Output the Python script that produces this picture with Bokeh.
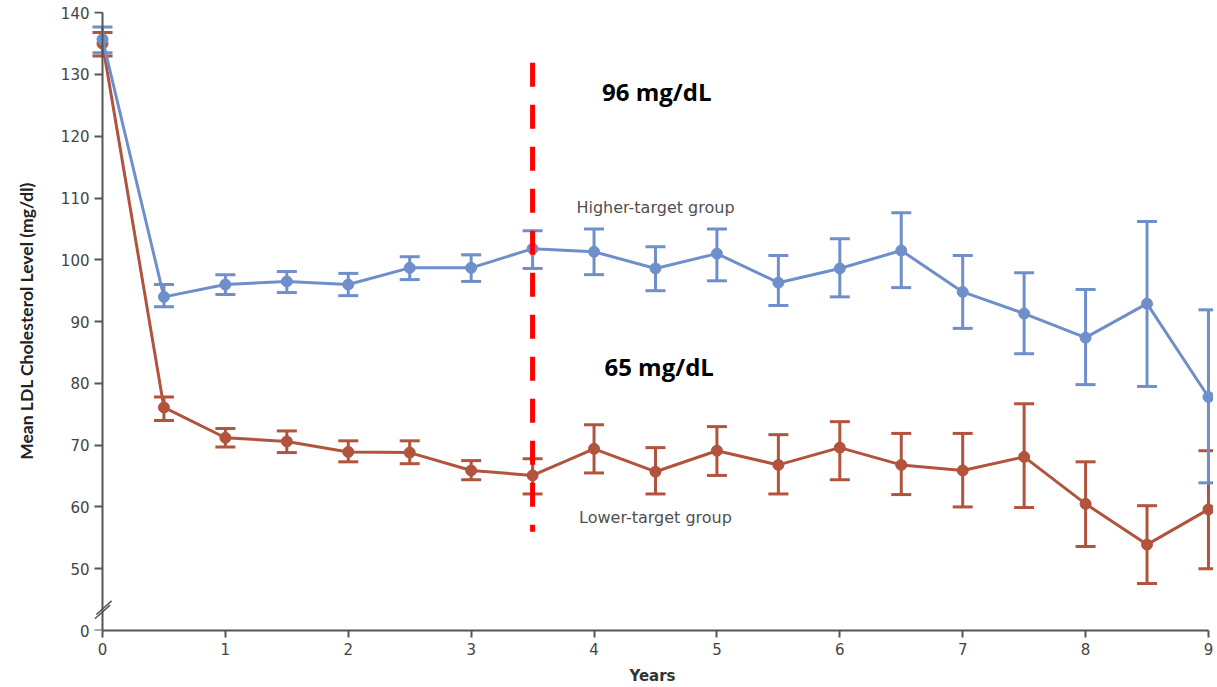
from bokeh.plotting import figure
from bokeh.models import (ColumnDataSource, Whisker, TeeHead, FixedTicker, Range1d, Label,
                          LinearAxis)
from bokeh.embed import file_html
from bokeh.resources import INLINE

# ---------------- data ----------------
years = [0, 0.5, 1, 1.5, 2, 2.5, 3, 3.5, 4, 4.5, 5, 5.5, 6, 6.5, 7, 7.5, 8, 8.5, 9]

higher_mean = [135.7, 94.0, 96.0, 96.5, 96.0, 98.7, 98.7, 101.8, 101.3, 98.6,
               101.0, 96.3, 98.6, 101.5, 94.8, 91.3, 87.4, 92.9, 77.8]
higher_upper = [137.7, 96.0, 97.6, 98.1, 97.8, 100.5, 100.8, 104.7, 105.0, 102.1,
                105.0, 100.7, 103.4, 107.6, 100.7, 97.9, 95.2, 106.2, 91.9]
higher_lower = [133.5, 92.4, 94.4, 94.7, 94.2, 96.8, 96.5, 98.6, 97.6, 95.0,
                96.6, 92.6, 94.0, 95.5, 88.9, 84.8, 79.8, 79.5, 63.9]

lower_mean = [135.0, 76.1, 71.2, 70.6, 68.9, 68.8, 65.9, 65.1, 69.4, 65.7,
              69.1, 66.8, 69.6, 66.8, 65.9, 68.1, 60.5, 53.9, 59.6]
lower_upper = [136.8, 77.8, 72.7, 72.3, 70.7, 70.7, 67.5, 67.8, 73.3, 69.6,
               73.0, 71.7, 73.8, 71.9, 71.9, 76.7, 67.3, 60.2, 69.1]
lower_lower = [133.0, 74.0, 69.7, 68.8, 67.3, 67.0, 64.4, 62.1, 65.5, 62.1,
               65.1, 62.1, 64.4, 62.0, 60.0, 59.9, 53.6, 47.6, 50.0]

x_ticks = [0, 1, 2, 3, 4, 5, 6, 7, 8, 9]
y_ticks = [40, 50, 60, 70, 80, 90, 100, 110, 120, 130, 140]   # 40 is shown as "0" (broken axis)
y_tick_labels = {40: "0"}

cutoff_year = 3.5
cutoff_top, cutoff_bottom = 131.9, 56.0
notes = [("96 mg/dL", 4.51, 127.2), ("65 mg/dL", 4.53, 82.7)]
group_labels = [("Higher-target group", 4.5, 108.4), ("Lower-target group", 4.5, 58.3)]

BLUE = "#6f8fca"
RED = "#b1533d"
AXIS = "#555555"
TXT = "#444444"

# ---------------- figure ----------------
p = figure(width=1213, height=687, output_backend="svg", toolbar_location=None,
           x_range=Range1d(-0.0895, 9.041), y_range=Range1d(40, 140.19),
           min_border_left=91, min_border_right=0, min_border_top=11, min_border_bottom=57)
p.outline_line_color = None
p.grid.visible = False
p.background_fill_color = "white"

# x axis
xa = p.xaxis[0]
xa.ticker = FixedTicker(ticks=x_ticks)
xa.bounds = (0, 9)
xa.axis_label = "Years"
xa.axis_label_text_font = "DejaVu Sans"
xa.axis_label_text_font_style = "bold"
xa.axis_label_text_font_size = "15px"
xa.axis_label_text_color = "#333333"
xa.axis_label_standoff = 9
xa.major_label_text_font = "DejaVu Sans"
xa.major_label_text_font_size = "15px"
xa.major_label_text_color = TXT
xa.major_label_standoff = 5
xa.major_tick_out = 7
xa.major_tick_in = 0
xa.minor_tick_out = 0
xa.minor_tick_in = 0
xa.axis_line_color = AXIS
xa.axis_line_width = 2
xa.major_tick_line_color = AXIS
xa.major_tick_line_width = 2

# y axis: labels (next to the frame)
ya = p.yaxis[0]
ya.ticker = FixedTicker(ticks=y_ticks)
ya.major_label_overrides = y_tick_labels
ya.axis_label = "Mean LDL Cholesterol Level (mg/dl)"
ya.axis_label_text_font = "Lato"
ya.axis_label_text_font_style = "bold"
ya.axis_label_text_font_size = "17.5px"
ya.axis_label_text_color = "#222222"
ya.axis_label_standoff = 21
ya.major_label_text_font = "DejaVu Sans"
ya.major_label_text_font_size = "15px"
ya.major_label_text_color = TXT
ya.major_label_standoff = 2
ya.axis_line_color = None
ya.major_tick_line_color = None
ya.minor_tick_line_color = None
ya.major_tick_out = 0
ya.major_tick_in = 0
ya.minor_tick_out = 0
ya.minor_tick_in = 0

# y axis: line and ticks placed at x = 0
ya_line = LinearAxis(ticker=FixedTicker(ticks=y_ticks), fixed_location=0, bounds=(40, 140),
                     axis_line_color=AXIS, axis_line_width=2,
                     major_tick_line_color=AXIS, major_tick_line_width=2,
                     major_tick_out=8, major_tick_in=0,
                     minor_tick_line_color=None, minor_tick_out=0, minor_tick_in=0,
                     major_label_text_color=None, major_label_text_font_size="1px",
                     major_label_standoff=0)
p.add_layout(ya_line, "left")

# axis break marks
p.segment(x0=[-0.062, -0.05], y0=[41.9, 42.6], x1=[0.062, 0.074], y1=[44.1, 44.8],
          line_color=AXIS, line_width=1.5, level="overlay")


def add_series(mean, upper, lower, color):
    src = ColumnDataSource(dict(x=years, y=mean, upper=upper, lower=lower))
    p.line("x", "y", source=src, line_color=color, line_width=3)
    p.scatter("x", "y", source=src, size=11, fill_color=color, line_color=color)
    w = Whisker(source=src, base="x", upper="upper", lower="lower",
                line_color=color, line_width=3,
                upper_head=TeeHead(size=20, line_color=color, line_width=3),
                lower_head=TeeHead(size=20, line_color=color, line_width=3))
    p.add_layout(w)


add_series(lower_mean, lower_upper, lower_lower, RED)
add_series(higher_mean, higher_upper, higher_lower, BLUE)

# red dashed cut-off line
p.line(x=[cutoff_year, cutoff_year], y=[cutoff_top, cutoff_bottom], line_color="#ff0000",
       line_width=5, line_dash="24 18", line_cap="butt", level="overlay")

for txt, x, y in notes:
    p.add_layout(Label(x=x, y=y, text=txt, text_font="Open Sans", text_font_style="bold",
                       text_font_size="24px", text_color="black",
                       text_align="center", text_baseline="middle"))

for txt, x, y in group_labels:
    p.add_layout(Label(x=x, y=y, text=txt, text_font="DejaVu Sans",
                       text_font_size="16px", text_color="#505050",
                       text_align="center", text_baseline="middle"))

open("out.html", "w").write(file_html(p, INLINE))
